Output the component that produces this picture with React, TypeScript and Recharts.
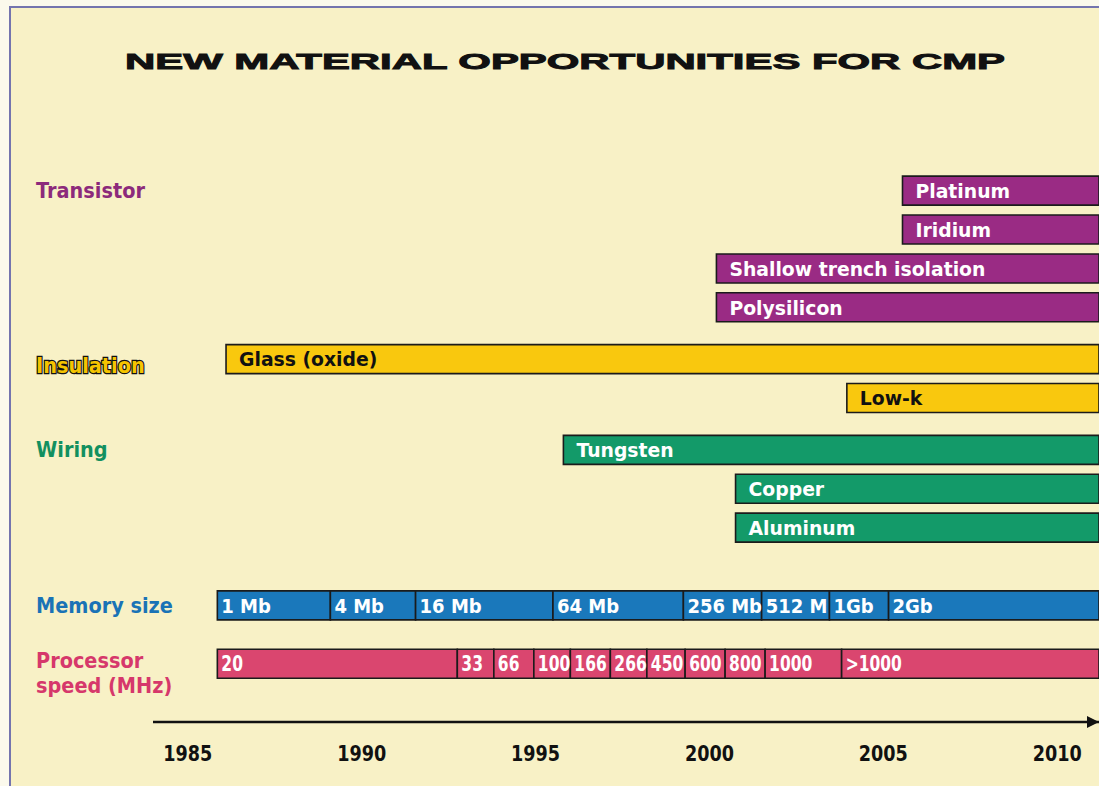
import { Bar, BarChart, Cell, LabelList, XAxis, YAxis } from "recharts";

// rows of the timeline (lane = vertical slot on the hidden numeric axis)
const materials = [
  "Platinum",
  "Iridium",
  "Shallow trench isolation",
  "Polysilicon",
  "Glass (oxide)",
  "Low-k",
  "Tungsten",
  "Copper",
  "Aluminum",
];
const materialStart = [2005.55, 2005.55, 2000.2, 2000.2, 1986.1, 2003.95, 1995.8, 2000.75, 2000.75];
const materialGroup = [
  "Transistor",
  "Transistor",
  "Transistor",
  "Transistor",
  "Insulation",
  "Insulation",
  "Wiring",
  "Wiring",
  "Wiring",
];
const materialLane = [0, 3, 6, 9, 13, 16, 20, 23, 26];

const memoryLabels = ["1 Mb", "4 Mb", "16 Mb", "64 Mb", "256 Mb", "512 M", "1Gb", "2Gb"];
const memoryStart = [1985.85, 1989.1, 1991.55, 1995.5, 1999.25, 2001.5, 2003.45, 2005.15];
const memoryLane = 32;

const speedLabels = ["20", "33", "66", "100", "166", "266", "450", "600", "800", "1000", ">1000"];
const speedStart = [1985.85, 1992.75, 1993.8, 1994.95, 1996.0, 1997.15, 1998.2, 1999.3, 2000.45, 2001.6, 2003.8];
const speedLane = 36.5;

const groups = ["Transistor", "Insulation", "Wiring", "Memory size", "Processor speed (MHz)"];
const groupLane = [0, 13, 20, 32, 36.5];
const groupColor: Record<string, string> = {
  Transistor: "#9a2b84",
  Insulation: "#f9c80e",
  Wiring: "#139a69",
  "Memory size": "#1a78bb",
  "Processor speed (MHz)": "#da466f",
};
const labelColor: Record<string, string> = {
  Transistor: "#8c2a7b",
  Insulation: "#f5c400",
  Wiring: "#12905f",
  "Memory size": "#1a73b6",
  "Processor speed (MHz)": "#d6386b",
};

const yearTicks = [1985, 1990, 1995, 2000, 2005, 2010];
const OPEN_END = 2012; // bars run off the right edge

const FONT = "'DejaVu Sans', 'Liberation Sans', sans-serif";

function makeRow(lane: number, group: string, starts: number[], labels: string[]) {
  const row: any = { lane, group, base: starts[0] };
  starts.forEach((s, i) => {
    row[`s${i}`] = (i + 1 < starts.length ? starts[i + 1] : OPEN_END) - s;
    row[`l${i}`] = labels[i];
  });
  return row;
}

const rows = [
  ...materials.map((m, i) => makeRow(materialLane[i], materialGroup[i], [materialStart[i]], [m])),
  makeRow(memoryLane, "Memory size", memoryStart, memoryLabels),
  makeRow(speedLane, "Processor speed (MHz)", speedStart, speedLabels),
];
const segKeys = Array.from({ length: speedLabels.length }, (_, i) => i);

// condensed look: squeeze the text horizontally
const Narrow = ({ x, y, sx, children, ...rest }: any) => (
  <text transform={`translate(${x},${y}) scale(${sx},1)`} fontFamily={FONT} fontWeight={700} {...rest}>
    {children}
  </text>
);

const GroupTick = (props: any) => {
  const { y, payload } = props;
  const gi = groupLane.indexOf(payload.value);
  if (gi < 0) return null;
  const name = groups[gi];
  const fill = labelColor[name];
  if (name === "Insulation") {
    return (
      <Narrow x={36} y={y + 7} sx={0.92} dy="0.35em" fontSize={21} fill={fill} stroke="#111" strokeWidth={2.5} paintOrder="stroke">
        {name}
      </Narrow>
    );
  }
  if (name === "Processor speed (MHz)") {
    return (
      <Narrow x={36} y={y - 3} sx={0.92} dy="0.35em" fontSize={21} fill={fill}>
        <tspan x={0}>Processor</tspan>
        <tspan x={0} dy={25}>
          speed (MHz)
        </tspan>
      </Narrow>
    );
  }
  return (
    <Narrow x={36} y={y} sx={0.92} dy="0.35em" fontSize={21} fill={fill}>
      {name}
    </Narrow>
  );
};

// label value carries its group so styling doesn't depend on the entry index
const segLabelKey = (i: number) => (r: any) => (r[`l${i}`] == null ? undefined : `${r.group}|${r[`l${i}`]}`);

const SegLabel = (props: any) => {
  const { x, y, height, value } = props;
  if (value == null || value === "") return null;
  const [group, text] = String(value).split("|");
  const speed = group === "Processor speed (MHz)";
  const memory = group === "Memory size";
  return (
    <Narrow
      x={x + (speed || memory ? 4 : 13)}
      y={y + height / 2}
      sx={speed ? 0.74 : memory ? 0.9 : 0.94}
      dy="0.36em"
      fontSize={speed ? 21 : 20}
      fill={group === "Insulation" ? "#111" : "#fff"}
    >
      {text}
    </Narrow>
  );
};

const YearTick = (props: any) => {
  const { x, y, payload } = props;
  return (
    <Narrow x={x} y={y} sx={0.84} dy="0.71em" textAnchor="middle" fontSize={21} fill="#111">
      {payload.value}
    </Narrow>
  );
};

export default function App() {
  return (
    <div
      style={{
        position: "absolute",
        left: 0,
        top: 0,
        width: 1099,
        height: 786,
        overflow: "hidden",
        background: "#fbf9ec",
      }}
    >
      <div
        style={{
          position: "absolute",
          left: 9,
          top: 6,
          width: 1200,
          height: 900,
          borderLeft: "2px solid #7474ae",
          borderTop: "2px solid #7474ae",
          background: "#f8f1c6",
        }}
      />
      <div style={{ position: "absolute", left: 0, top: 0 }}>
        <BarChart
          width={1099}
          height={786}
          data={rows}
          layout="vertical"
          margin={{ top: 61, right: 0, bottom: 0, left: 0 }}
          barSize={29}
        >
          <defs>
            <marker
              id="axisArrow"
              viewBox="0 0 10 10"
              refX={10}
              refY={5}
              markerWidth={14}
              markerHeight={12}
              markerUnits="userSpaceOnUse"
              orient="auto"
            >
              <path d="M0,0 L10,5 L0,10 z" fill="#111" />
            </marker>
          </defs>
          <XAxis
            type="number"
            domain={[1984, 2011.2]}
            ticks={yearTicks}
            allowDataOverflow
            height={64}
            axisLine={{ stroke: "#111", strokeWidth: 2.5, markerEnd: "url(#axisArrow)" }}
            tickLine={false}
            tickMargin={18}
            tick={<YearTick />}
          />
          <YAxis
            type="number"
            dataKey="lane"
            domain={[-10, 41]}
            ticks={groupLane}
            width={153}
            axisLine={false}
            tickLine={false}
            tick={<GroupTick />}
          />
          <Bar dataKey="base" stackId="t" fill="none" isAnimationActive={false} />
          {segKeys.map((i) => (
            <Bar
              key={i}
              dataKey={`s${i}`}
              stackId="t"
              stroke="#1b1b1b"
              strokeWidth={1.6}
              isAnimationActive={false}
            >
              {rows.map((r) => (
                <Cell key={r.lane} fill={groupColor[r.group]} />
              ))}
              <LabelList dataKey={segLabelKey(i)} content={<SegLabel />} />
            </Bar>
          ))}
        </BarChart>
      </div>
      <svg
        width={1099}
        height={100}
        style={{ position: "absolute", left: 0, top: 0, pointerEvents: "none" }}
      >
        <text
          x={565}
          y={69}
          textAnchor="middle"
          textLength={880}
          lengthAdjust="spacingAndGlyphs"
          fontFamily="'Liberation Sans', Arial, sans-serif"
          fontWeight={700}
          fontSize={22}
          fill="#111"
          stroke="#111"
          strokeWidth={0.9}
        >
          NEW MATERIAL OPPORTUNITIES FOR CMP
        </text>
      </svg>
    </div>
  );
}
